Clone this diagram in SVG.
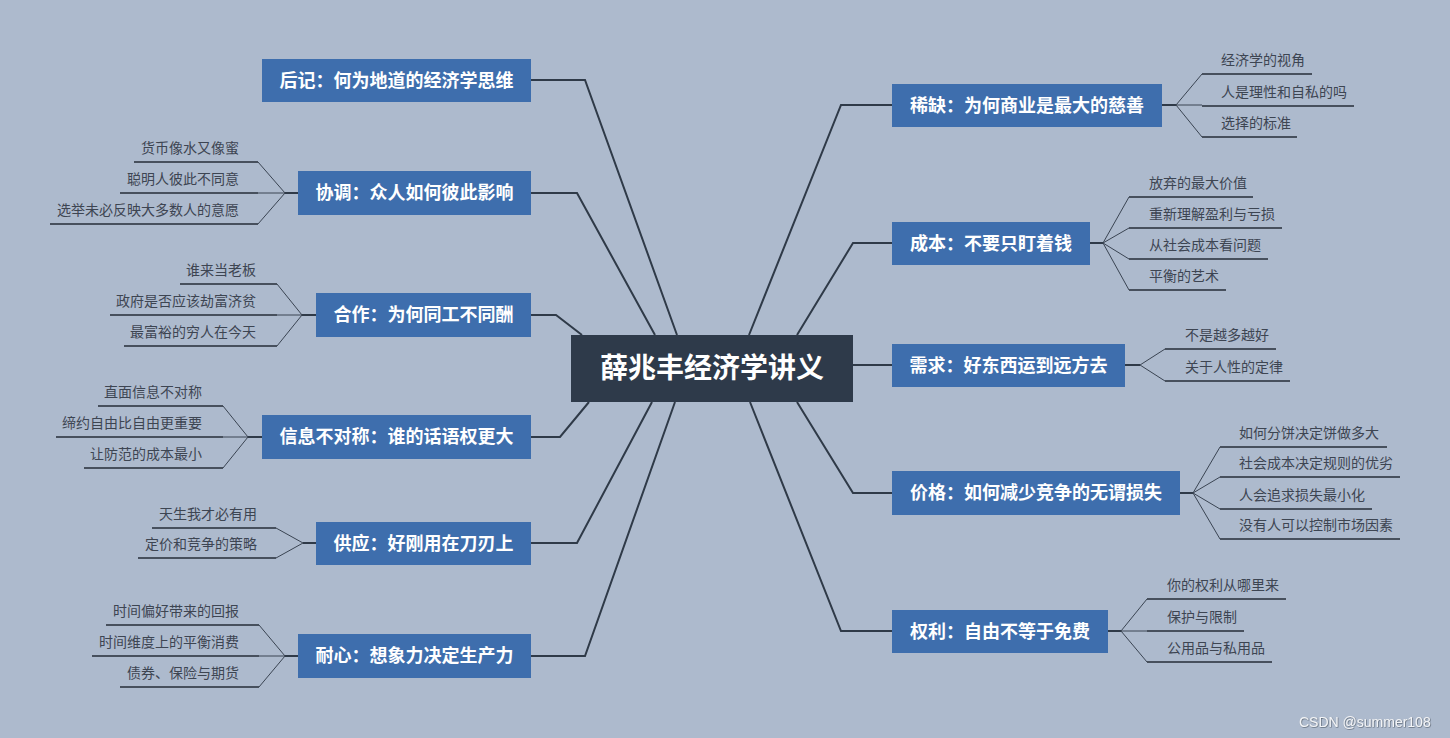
<svg xmlns="http://www.w3.org/2000/svg" width="1450" height="738" viewBox="0 0 1450 738">
<defs>
<style>
.bg{fill:#adbacd}
.main rect{fill:#3e6ead}
.main text{fill:#ffffff;font-family:"Noto Sans CJK SC","Noto Sans",sans-serif;font-weight:bold;font-size:18px;text-anchor:middle}
.root rect{fill:#2e3a4a}
.root text{fill:#ffffff;font-family:"Noto Sans CJK SC","Noto Sans",sans-serif;font-weight:bold;font-size:28px;text-anchor:middle}
.sub text{fill:#3d4552;font-family:"Noto Sans CJK SC","Noto Sans",sans-serif;font-size:14px}
.l text{text-anchor:end}
.trunk{fill:none;stroke:#2f3a48;stroke-width:2}
.stub{fill:none;stroke:#2f3a48;stroke-width:2}
.twig{fill:none;stroke:#3a4452;stroke-width:1}
.ul{fill:none;stroke:#47505d;stroke-width:2}
.wm{fill:#f2f4f7;font-family:"Liberation Sans",Arial,sans-serif;font-size:14px}
</style>
<filter id="shadow" x="-5%" y="-30%" width="110%" height="160%">
<feDropShadow dx="0.6" dy="0.6" stdDeviation="0.6" flood-color="#4a5260" flood-opacity="0.9"/>
</filter>
</defs>
<rect class="bg" x="0" y="0" width="1450" height="738"/>

<g id="connectors">
<path class="trunk" d="M677,335 L585,80 L531,80"/>
<path class="trunk" d="M655,335 L577,193 L531,193"/>
<path class="trunk" d="M582,335 L556,315 L531,315"/>
<path class="trunk" d="M589,402 L560,437 L531,437"/>
<path class="trunk" d="M652,402 L577,543 L531,543"/>
<path class="trunk" d="M675,402 L585,656 L531,656"/>
<path class="trunk" d="M749,335 L841,105 L892,105"/>
<path class="trunk" d="M797,335 L853,243 L892,243"/>
<path class="trunk" d="M853,365 L892,365"/>
<path class="trunk" d="M797,402 L853,493 L892,493"/>
<path class="trunk" d="M750,402 L841,631 L892,631"/>

<path class="stub" d="M1162,105 L1176,105"/>
<path class="twig" d="M1176,105 L1202,74 M1176,105 L1202,105 M1176,105 L1202,137"/>
<path class="ul" d="M1202,74 L1312,74 M1202,106 L1354,106 M1202,137 L1297,137"/>

<path class="stub" d="M1090,243 L1103,243"/>
<path class="twig" d="M1103,243 L1129,197 M1103,243 L1129,228 M1103,243 L1129,259 M1103,243 L1129,290"/>
<path class="ul" d="M1129,197 L1253,197 M1129,228 L1282,228 M1129,259 L1268,259 M1129,290 L1226,290"/>

<path class="stub" d="M1125,365 L1140,365"/>
<path class="twig" d="M1140,365 L1165,349 M1140,365 L1165,381"/>
<path class="ul" d="M1165,349 L1276,349 M1165,381 L1290,381"/>

<path class="stub" d="M1180,493 L1193,493"/>
<path class="twig" d="M1193,493 L1220,447 M1193,493 L1220,477 M1193,493 L1220,509 M1193,493 L1220,539"/>
<path class="ul" d="M1220,447 L1387,447 M1220,477 L1400,477 M1220,509 L1372,509 M1220,539 L1400,539"/>

<path class="stub" d="M1108,631 L1121,631"/>
<path class="twig" d="M1121,631 L1147,599 M1121,631 L1147,631 M1121,631 L1147,662"/>
<path class="ul" d="M1147,599 L1286,599 M1147,631 L1244,631 M1147,662 L1272,662"/>

<path class="stub" d="M298,193 L285,193"/>
<path class="twig" d="M285,193 L258,162 M285,193 L258,193 M285,193 L258,224"/>
<path class="ul" d="M258,162 L134,162 M258,193 L120,193 M258,224 L50,224"/>

<path class="stub" d="M316,315 L302,315"/>
<path class="twig" d="M302,315 L277,284 M302,315 L277,315 M302,315 L277,346"/>
<path class="ul" d="M277,284 L180,284 M277,315 L110,315 M277,346 L124,346"/>

<path class="stub" d="M262,437 L248,437"/>
<path class="twig" d="M248,437 L223,406 M248,437 L223,437 M248,437 L223,468"/>
<path class="ul" d="M223,406 L98,406 M223,437 L56,437 M223,468 L84,468"/>

<path class="stub" d="M316,543 L303,543"/>
<path class="twig" d="M303,543 L276,528 M303,543 L276,558"/>
<path class="ul" d="M276,528 L152,528 M276,558 L138,558"/>

<path class="stub" d="M298,656 L285,656"/>
<path class="twig" d="M285,656 L259,625 M285,656 L259,656 M285,656 L259,687"/>
<path class="ul" d="M259,625 L106,625 M259,656 L92,656 M259,687 L120,687"/>
</g>

<g id="root" class="root">
<rect x="571" y="335" width="282" height="67"/>
<text x="712" y="378">薛兆丰经济学讲义</text>
</g>

<g id="n-houji" class="main"><rect x="262" y="59" width="269" height="43"/><text x="396.5" y="87">后记：何为地道的经济学思维</text></g>
<g id="n-xietiao" class="main"><rect x="298" y="171" width="233" height="44"/><text x="414.5" y="199">协调：众人如何彼此影响</text></g>
<g id="n-hezuo" class="main"><rect x="316" y="293" width="215" height="44"/><text x="423.5" y="321">合作：为何同工不同酬</text></g>
<g id="n-xinxi" class="main"><rect x="262" y="415" width="269" height="44"/><text x="396.5" y="443">信息不对称：谁的话语权更大</text></g>
<g id="n-gongying" class="main"><rect x="316" y="522" width="215" height="43"/><text x="423.5" y="550">供应：好刚用在刀刃上</text></g>
<g id="n-naixin" class="main"><rect x="298" y="634" width="233" height="44"/><text x="414.5" y="662">耐心：想象力决定生产力</text></g>

<g id="n-xique" class="main"><rect x="892" y="84" width="270" height="43"/><text x="1027" y="112">稀缺：为何商业是最大的慈善</text></g>
<g id="n-chengben" class="main"><rect x="892" y="222" width="198" height="43"/><text x="991" y="250">成本：不要只盯着钱</text></g>
<g id="n-xuqiu" class="main"><rect x="892" y="344" width="233" height="43"/><text x="1008.5" y="372">需求：好东西运到远方去</text></g>
<g id="n-jiage" class="main"><rect x="892" y="471" width="288" height="44"/><text x="1036" y="499">价格：如何减少竞争的无谓损失</text></g>
<g id="n-quanli" class="main"><rect x="892" y="610" width="216" height="43"/><text x="1000" y="638">权利：自由不等于免费</text></g>

<g id="s-xique" class="sub">
<text x="1221" y="65">经济学的视角</text>
<text x="1221" y="97">人是理性和自私的吗</text>
<text x="1221" y="128">选择的标准</text>
</g>
<g id="s-chengben" class="sub">
<text x="1149" y="188">放弃的最大价值</text>
<text x="1149" y="219">重新理解盈利与亏损</text>
<text x="1149" y="250">从社会成本看问题</text>
<text x="1149" y="281">平衡的艺术</text>
</g>
<g id="s-xuqiu" class="sub">
<text x="1185" y="340">不是越多越好</text>
<text x="1185" y="372">关于人性的定律</text>
</g>
<g id="s-jiage" class="sub">
<text x="1239" y="438">如何分饼决定饼做多大</text>
<text x="1239" y="468">社会成本决定规则的优劣</text>
<text x="1239" y="500">人会追求损失最小化</text>
<text x="1239" y="530">没有人可以控制市场因素</text>
</g>
<g id="s-quanli" class="sub">
<text x="1167" y="590">你的权利从哪里来</text>
<text x="1167" y="622">保护与限制</text>
<text x="1167" y="653">公用品与私用品</text>
</g>

<g id="s-xietiao" class="sub l">
<text x="239" y="153">货币像水又像蜜</text>
<text x="239" y="184">聪明人彼此不同意</text>
<text x="239" y="215">选举未必反映大多数人的意愿</text>
</g>
<g id="s-hezuo" class="sub l">
<text x="256" y="275">谁来当老板</text>
<text x="256" y="306">政府是否应该劫富济贫</text>
<text x="256" y="337">最富裕的穷人在今天</text>
</g>
<g id="s-xinxi" class="sub l">
<text x="202" y="397">直面信息不对称</text>
<text x="202" y="428">缔约自由比自由更重要</text>
<text x="202" y="459">让防范的成本最小</text>
</g>
<g id="s-gongying" class="sub l">
<text x="257" y="519">天生我才必有用</text>
<text x="257" y="549">定价和竞争的策略</text>
</g>
<g id="s-naixin" class="sub l">
<text x="239" y="616">时间偏好带来的回报</text>
<text x="239" y="647">时间维度上的平衡消费</text>
<text x="239" y="678">债券、保险与期货</text>
</g>

<text class="wm" x="1299" y="727" filter="url(#shadow)">CSDN @summer108</text>
</svg>
